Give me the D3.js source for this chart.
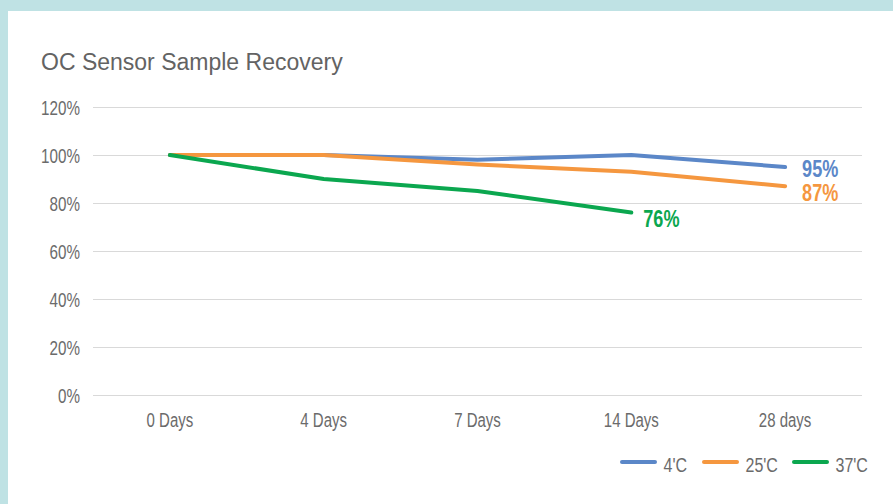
<!DOCTYPE html>
<html>
<head>
<meta charset="utf-8">
<script src="https://cdn.jsdelivr.net/npm/d3@7/dist/d3.min.js"></script>
<style>
  html, body { margin: 0; padding: 0; background: #bfe2e4; }
  svg { display: block; }
</style>
</head>
<body>
<svg id="chart" width="893" height="504"></svg>
<script>
const categories = ["0 Days", "4 Days", "7 Days", "14 Days", "28 days"];
const seriesNames = ["4'C", "25'C", "37'C"];
const seriesColors = ["#5b87c8", "#f5973f", "#0ba74f"];
const values4C  = [100, 100, 98, 100, 95];
const values25C = [100, 100, 96, 93, 87];
const values37C = [100, 90, 85, 76, null];
const endLabels = ["95%", "87%", "76%"];
const yTicks = [0, 20, 40, 60, 80, 100, 120];
const titleText = "OC Sensor Sample Recovery";

const seriesValues = [values4C, values25C, values37C];

const svg = d3.select("#chart");
const W = 893, H = 504;

// white panel
svg.append("rect").attr("x", 8).attr("y", 11).attr("width", W - 8).attr("height", H - 11).attr("fill", "#ffffff");

const plot = { left: 93, right: 862, top: 107, bottom: 395 };

const x = d3.scaleBand().domain(categories).range([plot.left, plot.right]);
const y = d3.scaleLinear().domain([0, 120]).range([plot.bottom, plot.top]);

const font = "'Liberation Sans', Arial, sans-serif";

// condense a text horizontally
function condense(sel, k) {
  sel.each(function () {
    const len = this.getComputedTextLength();
    d3.select(this).attr("textLength", len * k).attr("lengthAdjust", "spacingAndGlyphs");
  });
}

// title
svg.append("text").attr("x", 41).attr("y", 70)
  .attr("font-family", font)
  .attr("font-size", 23).attr("fill", "#636363").text(titleText);

// gridlines
const yAxis = d3.axisLeft(y).tickValues(yTicks).tickSize(-(plot.right - plot.left)).tickPadding(13).tickFormat(d => d + "%");
const gy = svg.append("g").attr("transform", `translate(${plot.left},0)`).call(yAxis);
gy.select(".domain").remove();
gy.selectAll(".tick line").attr("stroke", "#d9d9d9").attr("stroke-width", 1);
gy.selectAll(".tick text").attr("font-family", font).attr("font-size", 20).attr("fill", "#6b6b6b")
  .attr("dy", "0.36em").call(condense, 0.76);

// x axis labels
const xAxis = d3.axisBottom(x).tickSize(0).tickPadding(18);
const gx = svg.append("g").attr("transform", `translate(0,${plot.bottom})`).call(xAxis);
gx.select(".domain").remove();
gx.selectAll(".tick text").attr("font-family", font).attr("font-size", 20).attr("fill", "#6b6b6b")
  .attr("y", 18).attr("dy", "0.7em").call(condense, 0.75);

// lines
const line = d3.line()
  .defined(d => d.v !== null)
  .x(d => x(d.c) + x.bandwidth() / 2)
  .y(d => y(d.v));

const labelDy = [10, 15, 14.5];
const labelDx = [17, 17, 12];
seriesValues.forEach((vals, i) => {
  const pts = categories.map((c, j) => ({ c, v: vals[j] }));
  svg.append("path").datum(pts)
    .attr("d", line)
    .attr("fill", "none")
    .attr("stroke", seriesColors[i])
    .attr("stroke-width", 4)
    .attr("stroke-linecap", "round")
    .attr("stroke-linejoin", "round");
  const last = pts.filter(p => p.v !== null).pop();
  svg.append("text")
    .attr("x", x(last.c) + x.bandwidth() / 2 + labelDx[i])
    .attr("y", y(last.v) + labelDy[i])
    .attr("font-family", font).attr("font-weight", "bold")
    .attr("font-size", 23.5).attr("fill", seriesColors[i])
    .text(endLabels[i]).call(condense, 0.77);
});

// legend
const legendX = [622, 704, 794];
seriesNames.forEach((n, i) => {
  const g = svg.append("g").attr("transform", `translate(${legendX[i]},462)`);
  g.append("line").attr("x1", 0).attr("x2", 33).attr("y1", 0).attr("y2", 0)
    .attr("stroke", seriesColors[i]).attr("stroke-width", 4).attr("stroke-linecap", "round");
  g.append("text").attr("x", 41.5).attr("y", 9.5)
    .attr("font-family", font).attr("font-size", 20).attr("fill", "#6b6b6b").text(n).call(condense, 0.8);
});
</script>
</body>
</html>
